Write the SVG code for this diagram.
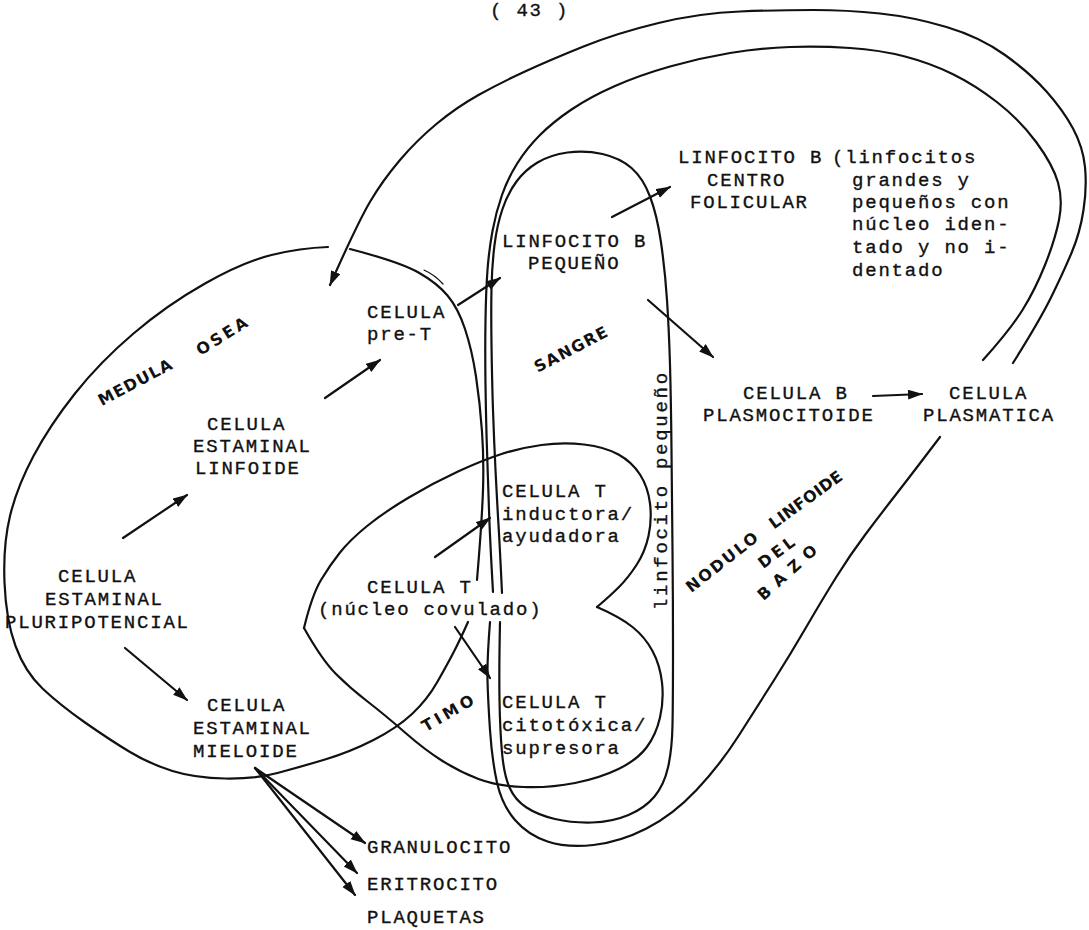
<svg xmlns="http://www.w3.org/2000/svg" width="1089" height="930" viewBox="0 0 1089 930">
<style>
.t{font-family:"Liberation Mono","DejaVu Sans Mono",monospace;font-size:19px;letter-spacing:1.8px;fill:#111;stroke:#111;stroke-width:0.35}
.b{font-family:"DejaVu Sans","Liberation Sans",sans-serif;font-weight:bold;font-size:16px;fill:#111;text-anchor:middle}
.l{fill:none;stroke:#111;stroke-width:2.2;stroke-linecap:round;stroke-linejoin:round}
.a{fill:none;stroke:#111;stroke-width:2.2;stroke-linecap:round;marker-end:url(#ah)}
</style>
<defs>
<marker id="ah" markerUnits="userSpaceOnUse" markerWidth="16" markerHeight="12" refX="14" refY="5" orient="auto">
<path d="M0,0 L15,5 L0,10 z" fill="#111"/>
</marker>
</defs>
<rect width="1089" height="930" fill="#fff"/>

<g id="regions">
<g id="medula-osea">
<path class="l" d="M328,247 Q300,248 271.5,255 Q243,262 205,283.5 Q167,305 133.5,333.5 Q100,362 75,393.5 Q50,425 33.5,456 Q17,487 10,516 Q3,545 4.5,582.5 Q6,620 15.5,646 Q25,672 42.5,688.5 Q60,705 85,722.5 Q110,740 130,752 Q150,764 172.5,771 Q195,778 225,778.5 Q255,779 277.5,773 Q300,767 325,759.5 Q350,752 373.5,740 Q397,728 412,714 Q427,700 437,682.5 Q447,665 453.5,652.5 Q460,640 468,622"/>
<path class="l" d="M350,249 Q400,262 418.5,272.5 Q437,283 447.5,295.5 Q458,308 465,329 Q472,350 476,376.5 Q480,403 482,431.5 Q484,460 483,490 Q482,520 477,580"/>
<path class="l" style="stroke-width:1.2" d="M424,270 Q435,275 443,284"/>
<text class="b" transform="translate(138,387) rotate(-28)" letter-spacing="1.1">MEDULA</text>
<text class="b" transform="translate(226,340) rotate(-32)" letter-spacing="2.9">OSEA</text>
</g>
<g id="bazo">
<path class="l" d="M983,360 Q1010,330 1022.5,310 Q1035,290 1045,265 Q1055,240 1059,220 Q1063,200 1058,182.5 Q1053,165 1036.5,142.5 Q1020,120 997.5,102.5 Q975,85 952.5,74 Q930,63 905,56.5 Q880,50 850,48 Q820,46 790,47 Q760,48 730,53 Q700,58 670,66.5 Q640,75 615,86 Q590,97 571.5,109.5 Q553,122 540,135 Q527,148 517.5,163 Q508,178 502,195 Q496,212 492.5,231 Q489,250 487.5,270 Q486,290 485.5,320 Q485,350 485.5,385 Q486,420 487,450 Q488,480 489,510 Q490,540 493,592"/>
<path class="l" d="M490,622 Q487,660 487.5,680 Q488,700 490,730 Q492,760 497,782.5 Q502,805 515,820 Q528,835 547.5,841.5 Q567,848 593.5,845 Q620,842 646.5,828.5 Q673,815 696.5,790 Q720,765 738.5,736 Q757,707 773.5,681 Q790,655 806,627.5 Q822,600 836,577.5 Q850,555 865,535 Q880,515 897.5,492.5 Q915,470 940,437"/>
<text class="b" transform="translate(726,566) rotate(-38)" letter-spacing="2">NODULO</text>
<text class="b" transform="translate(809,504) rotate(-36)" letter-spacing="0.3">LINFOIDE</text>
<text class="b" transform="translate(781,556) rotate(-37)" letter-spacing="3.3">DEL</text>
<text class="b" transform="translate(794,574) rotate(-42)" letter-spacing="8">BAZO</text>
</g>
<g id="sangre">
<path class="l" d="M500,622 Q499,670 499.5,700 Q500,730 502,752.5 Q504,775 509.5,787.5 Q515,800 526.5,807.5 Q538,815 555,819 Q572,823 592,822.5 Q612,822 628.5,815 Q645,808 654.5,796.5 Q664,785 668,767.5 Q672,750 672.5,725 Q673,700 673,650 Q673,600 672.5,550 Q672,500 671.5,450 Q671,400 670,365 Q669,330 667,300 Q665,270 661,242.5 Q657,215 650,196.5 Q643,178 631.5,168 Q620,158 602.5,154 Q585,150 567.5,152.5 Q550,155 537.5,162.5 Q525,170 516.5,181.5 Q508,193 502.5,209 Q497,225 494.5,245 Q492,265 491.5,287.5 Q491,310 491.5,345 Q492,380 493,410 Q494,440 495.5,470 Q497,500 498.5,525 Q500,550 502,593"/>
<text class="b" transform="translate(574,354) rotate(-27.5)" letter-spacing="1.3">SANGRE</text>
<text class="t" transform="translate(667,610) rotate(-90)" style="letter-spacing:2.7px">linfocito pequeño</text>
</g>
<g id="timo">
<path class="l" d="M597,607 Q620,617 632.5,627 Q645,637 652.5,651 Q660,665 662,682.5 Q664,700 660,717.5 Q656,735 646.5,747.5 Q637,760 618.5,769 Q600,778 575,783 Q550,788 523.5,787 Q497,786 478.5,779 Q460,772 442.5,761 Q425,750 405,732.5 Q385,715 367.5,701.5 Q350,688 336,674 Q322,660 304,628"/>
<path class="l" d="M304,628 Q312,595 321,580 Q330,565 340,552.5 Q350,540 366.5,526.5 Q383,513 408,498 Q433,483 458,471.5 Q483,460 501.5,454 Q520,448 541.5,445 Q563,442 584,444.5 Q605,447 618.5,454.5 Q632,462 640,474.5 Q648,487 650,503.5 Q652,520 648.5,536 Q645,552 636.5,565 Q628,578 619,587 Q610,596 597,607"/>
<text class="b" transform="translate(452,717) rotate(-30)" letter-spacing="3.6">TIMO</text>
</g>
</g>

<g id="connectors">
<path class="a" d="M1013,363 Q1040,320 1051.5,296.5 Q1063,273 1071.5,253 Q1080,233 1083.5,210 Q1087,187 1085,167 Q1083,147 1073,128.5 Q1063,110 1046.5,91.5 Q1030,73 1005,55 Q980,37 946.5,27 Q913,17 880,13.5 Q847,10 813.5,10 Q780,10 740,11.5 Q700,13 658.5,23 Q617,33 583.5,46.5 Q550,60 525,71.5 Q500,83 478.5,95 Q457,107 437,123.5 Q417,140 400,160 Q383,180 370.5,201 Q358,222 330,285"/>
<path class="a" d="M123,538 L187,495"/>
<path class="a" d="M125,648 L187,700"/>
<path class="a" d="M325,398 L380,360"/>
<path class="a" d="M458,305 L500,278"/>
<path class="a" d="M612,217 L670,187"/>
<path class="a" d="M648,300 L713,357"/>
<path class="a" d="M873,396 L922,394"/>
<path class="a" d="M435,557 L490,518"/>
<path class="a" d="M455,627 L490,678"/>
<path class="a" d="M255,768 L365,843"/>
<path class="a" d="M255,768 L357,873"/>
<path class="a" d="M255,768 L355,895"/>
</g>

<g id="page-number"><text class="t" x="490" y="16">( 43 )</text></g>
<g id="celula-pluripotencial"><text class="t" x="58" y="582">CELULA</text><text class="t" x="45" y="605">ESTAMINAL</text><text class="t" x="5" y="628">PLURIPOTENCIAL</text></g>
<g id="celula-linfoide"><text class="t" x="207" y="430">CELULA</text><text class="t" x="193" y="452">ESTAMINAL</text><text class="t" x="195" y="474">LINFOIDE</text></g>
<g id="celula-mieloide"><text class="t" x="207" y="711">CELULA</text><text class="t" x="193" y="734">ESTAMINAL</text><text class="t" x="193" y="757">MIELOIDE</text></g>
<g id="celula-pre-t"><text class="t" x="367" y="318">CELULA</text><text class="t" x="367" y="340">pre-T</text></g>
<g id="linfocito-b-pequeno"><text class="t" x="502" y="247">LINFOCITO B</text><text class="t" x="528" y="269">PEQUEÑO</text></g>
<g id="linfocito-b-centro"><text class="t" x="678" y="163">LINFOCITO B</text><text class="t" x="707" y="186">CENTRO</text><text class="t" x="690" y="208">FOLICULAR</text></g>
<g id="nota-linfocitos"><text class="t" x="832" y="163">(linfocitos</text><text class="t" x="852" y="186">grandes y</text><text class="t" x="852" y="208">pequeños con</text><text class="t" x="852" y="230">núcleo iden-</text><text class="t" x="852" y="253">tado y no i-</text><text class="t" x="852" y="276">dentado</text></g>
<g id="celula-b-plasmocitoide"><text class="t" x="743" y="399">CELULA B</text><text class="t" x="703" y="421">PLASMOCITOIDE</text></g>
<g id="celula-plasmatica"><text class="t" x="949" y="399">CELULA</text><text class="t" x="923" y="421">PLASMATICA</text></g>
<g id="celula-t-inductora"><text class="t" x="502" y="497">CELULA T</text><text class="t" x="502" y="520">inductora/</text><text class="t" x="502" y="542">ayudadora</text></g>
<g id="celula-t-covulado"><text class="t" x="367" y="593">CELULA T</text><text class="t" x="318" y="615">(núcleo covulado)</text></g>
<g id="celula-t-citotoxica"><text class="t" x="502" y="708">CELULA T</text><text class="t" x="502" y="731">citotóxica/</text><text class="t" x="502" y="754">supresora</text></g>
<g id="granulocito"><text class="t" x="367" y="853">GRANULOCITO</text></g>
<g id="eritrocito"><text class="t" x="367" y="890">ERITROCITO</text></g>
<g id="plaquetas"><text class="t" x="367" y="923">PLAQUETAS</text></g>
</svg>
